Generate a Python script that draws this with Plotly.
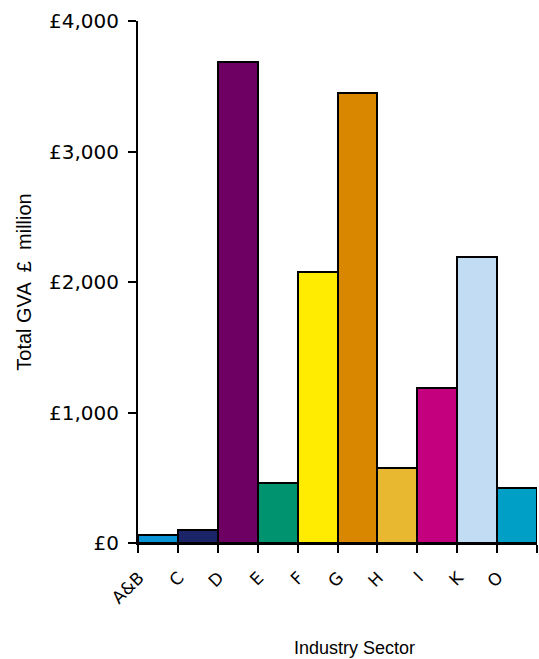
import plotly.graph_objects as go

categories = ["A&B", "C", "D", "E", "F", "G", "H", "I", "K", "O"]
gva = [60, 100, 3685, 457, 2074, 3446, 572, 1188, 2189, 419]
colors = ["#0A96D6", "#1B2466", "#6E0063", "#00936F", "#FFEC00", "#D98600",
          "#E8B830", "#C4007F", "#C2DDF3", "#00A0C6"]
y_ticks = [0, 1000, 2000, 3000, 4000]
y_tick_labels = ["£0", "£1,000", "£2,000", "£3,000", "£4,000"]

fig = go.Figure(go.Bar(
    x=categories, y=gva,
    marker=dict(color=colors, line=dict(color="black", width=2)),
    cliponaxis=False,
))

tick_font = "DejaVu Sans, Verdana, sans-serif"
title_font = "Liberation Sans, Arial, sans-serif"
fig.update_layout(
    width=539, height=659,
    margin=dict(l=138, r=2, t=21, b=116),
    paper_bgcolor="white", plot_bgcolor="white",
    bargap=0, showlegend=False,
    font=dict(family=tick_font, size=14, color="black"),
    xaxis=dict(
        type="category", range=[-0.5, 9.5],
        showline=True, linecolor="black", linewidth=2,
        ticks="outside", tickson="boundaries", ticklen=8, tickwidth=2, tickcolor="black",
        tickangle=-45, tickfont=dict(size=17, family=tick_font),
        ticklabelshift=-19, ticklabelstandoff=16,
    ),
    yaxis=dict(
        range=[0, 4000], tickvals=y_ticks, ticktext=y_tick_labels,
        showline=True, linecolor="black", linewidth=2,
        ticks="outside", ticklen=8, tickwidth=2, tickcolor="black",
        ticklabelstandoff=5,
        showgrid=False, zeroline=False, tickfont=dict(size=20, family=tick_font),
        title=dict(text="Total GVA  £  million", font=dict(size=20, family=title_font), standoff=12),
    ),
    annotations=[dict(
        text="Industry Sector", xref="paper", yref="paper",
        x=(354 - 138) / 399, y=-(648 - 543) / 522,
        xanchor="center", yanchor="middle", showarrow=False,
        font=dict(size=18, family=title_font, color="black"),
    )],
)

fig.write_html("out.html", config={"displayModeBar": False},
               post_script="document.body.style.margin='0';")
